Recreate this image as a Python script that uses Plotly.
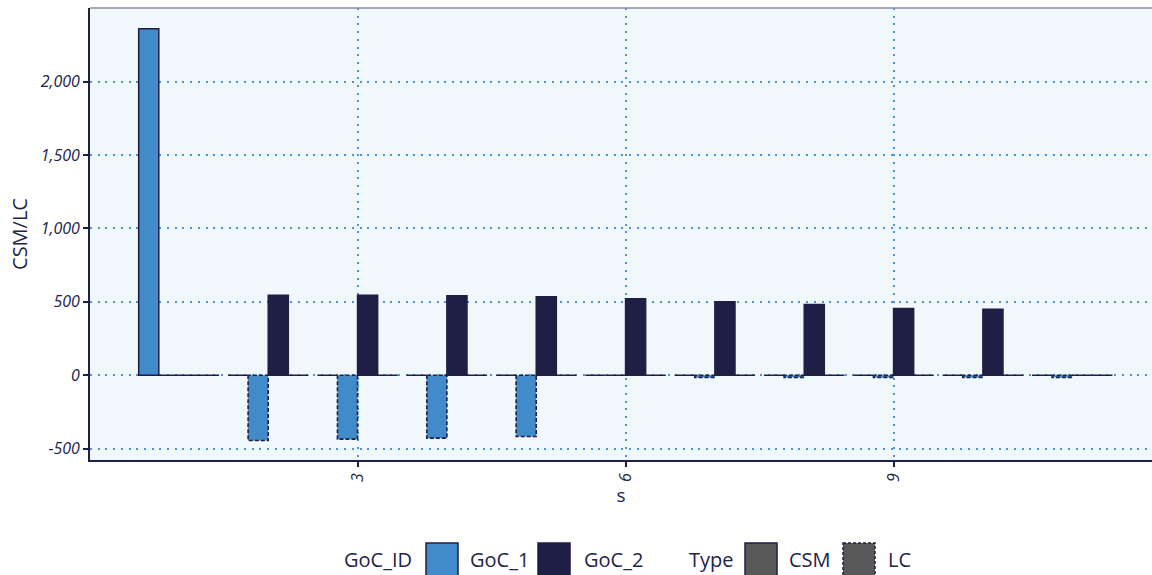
import plotly.graph_objects as go

# ---- data ----
s_values = [1, 2, 3, 4, 5, 6, 7, 8, 9, 10, 11]
goc1_csm = [2360, 0, 0, 0, 0, 0, 0, 0, 0, 0, 0]
goc1_lc = [0, -445, -436, -429, -418, 0, -15, -15, -15, -15, -15]
goc2_csm = [0, 545, 545, 542, 535, 520, 501, 481, 454, 450, 0]
goc2_lc = [0, 0, 0, 0, 0, 0, 0, 0, 0, 0, 0]
x_ticks = [3, 6, 9]
y_ticks = [-500, 0, 500, 1000, 1500, 2000]

C_GOC1 = "#428BCA"
C_GOC2 = "#1F1F45"
C_LINE = "#1F1F45"
C_GRID = "#4F93D0"
C_TEXT = "#23234A"
FONT = "Open Sans"

bar_w = 0.225
series = [
    ("GoC_1 CSM", goc1_csm, C_GOC1, "CSM", -0.45),
    ("GoC_1 LC", goc1_lc, C_GOC1, "LC", -0.225),
    ("GoC_2 CSM", goc2_csm, C_GOC2, "CSM", 0.0),
    ("GoC_2 LC", goc2_lc, C_GOC2, "LC", 0.225),
]

fig = go.Figure()
for name, vals, col, typ, off in series:
    if typ == "CSM":
        lw = 1.5
    else:
        lw = [1.5 if v == 0 else 0 for v in vals]
    fig.add_trace(go.Bar(
        x=s_values, y=vals, name=name, offset=off, width=bar_w,
        marker=dict(color=col, line=dict(color=C_LINE, width=lw)),
        showlegend=False,
    ))
    if typ == "LC":
        xs, ys = [], []
        for s, v in zip(s_values, vals):
            if v == 0:
                continue
            x0, x1 = s + off, s + off + bar_w
            xs += [x0, x0, x1, x1, x0, None]
            ys += [0, v, v, 0, 0, None]
        if xs:
            fig.add_trace(go.Scatter(
                x=xs, y=ys, mode="lines", showlegend=False, hoverinfo="skip",
                line=dict(color=C_LINE, width=1.6, dash="4px,2px"),
            ))

# ---- manual ggplot-style legend ----
W_PLOT, H_PLOT, L, T = 1062, 452, 90, 8
def px(x):
    return (x - L) / W_PLOT
def py(y):
    return (T + H_PLOT - y) / H_PLOT

legend_items = [
    ("text", "GoC_ID", 378),
    ("box", C_GOC1, 426, "solid"),
    ("text", "GoC_1", 499),
    ("box", C_GOC2, 538, "solid"),
    ("text", "GoC_2", 613),
    ("text", "Type", 711),
    ("box", "#595959", 745, "solid"),
    ("text", "CSM", 810),
    ("box", "#595959", 843, "3px,2px"),
    ("text", "LC", 899),
]
shapes = []
annotations = []
for it in legend_items:
    if it[0] == "text":
        annotations.append(dict(
            x=px(it[2]), y=py(559), xref="paper", yref="paper", text=it[1],
            showarrow=False, xanchor="center", yanchor="middle",
            font=dict(family=FONT, size=20, color=C_TEXT),
        ))
    else:
        shapes.append(dict(
            type="rect", xref="paper", yref="paper",
            x0=px(it[2]), x1=px(it[2] + 32), y0=py(543), y1=py(577),
            fillcolor=it[1], line=dict(color=C_LINE, width=1.5, dash=it[3]),
        ))
# top panel border
shapes.append(dict(type="line", xref="paper", yref="paper", x0=0, x1=1, y0=1, y1=1,
                   line=dict(color="#8A8AA8", width=1.5)))

fig.update_layout(
    width=1152, height=575,
    margin=dict(l=L, r=0, t=T, b=115),
    barmode="overlay",
    paper_bgcolor="white",
    plot_bgcolor="#F0F8FC",
    font=dict(family=FONT, color=C_TEXT),
    shapes=shapes,
    annotations=annotations,
    showlegend=False,
)
fig.update_xaxes(
    range=[0.005, 11.893], tickmode="array", tickvals=x_ticks,
    ticktext=[str(v) for v in x_ticks], tickangle=-90,
    tickfont=dict(family=FONT, size=16, color=C_TEXT, style="italic"),
    showgrid=True, gridcolor=C_GRID, griddash="2px,5.7px", gridwidth=1.8,
    showline=True, linecolor=C_LINE, linewidth=1.8,
    ticks="outside", ticklen=5, tickcolor=C_LINE, tickwidth=1.5,
    zeroline=False,
    title=dict(text="s", font=dict(family=FONT, size=19, color=C_TEXT), standoff=6),
)
fig.update_yaxes(
    range=[-578, 2502], tickmode="array", tickvals=y_ticks,
    ticktext=[f"{v:,}" for v in y_ticks],
    tickfont=dict(family=FONT, size=16, color=C_TEXT, style="italic"),
    showgrid=True, gridcolor=C_GRID, griddash="2px,5.7px", gridwidth=1.8,
    showline=True, linecolor=C_LINE, linewidth=1.8,
    ticks="outside", ticklen=5, tickcolor=C_LINE, tickwidth=1.5,
    zeroline=False,
    title=dict(text="CSM/LC", font=dict(family=FONT, size=20, color=C_TEXT), standoff=8),
)

fig.write_html(
    "out.html",
    config={"displayModeBar": False},
    post_script="document.body.style.margin='0';document.body.style.overflow='hidden';",
)
